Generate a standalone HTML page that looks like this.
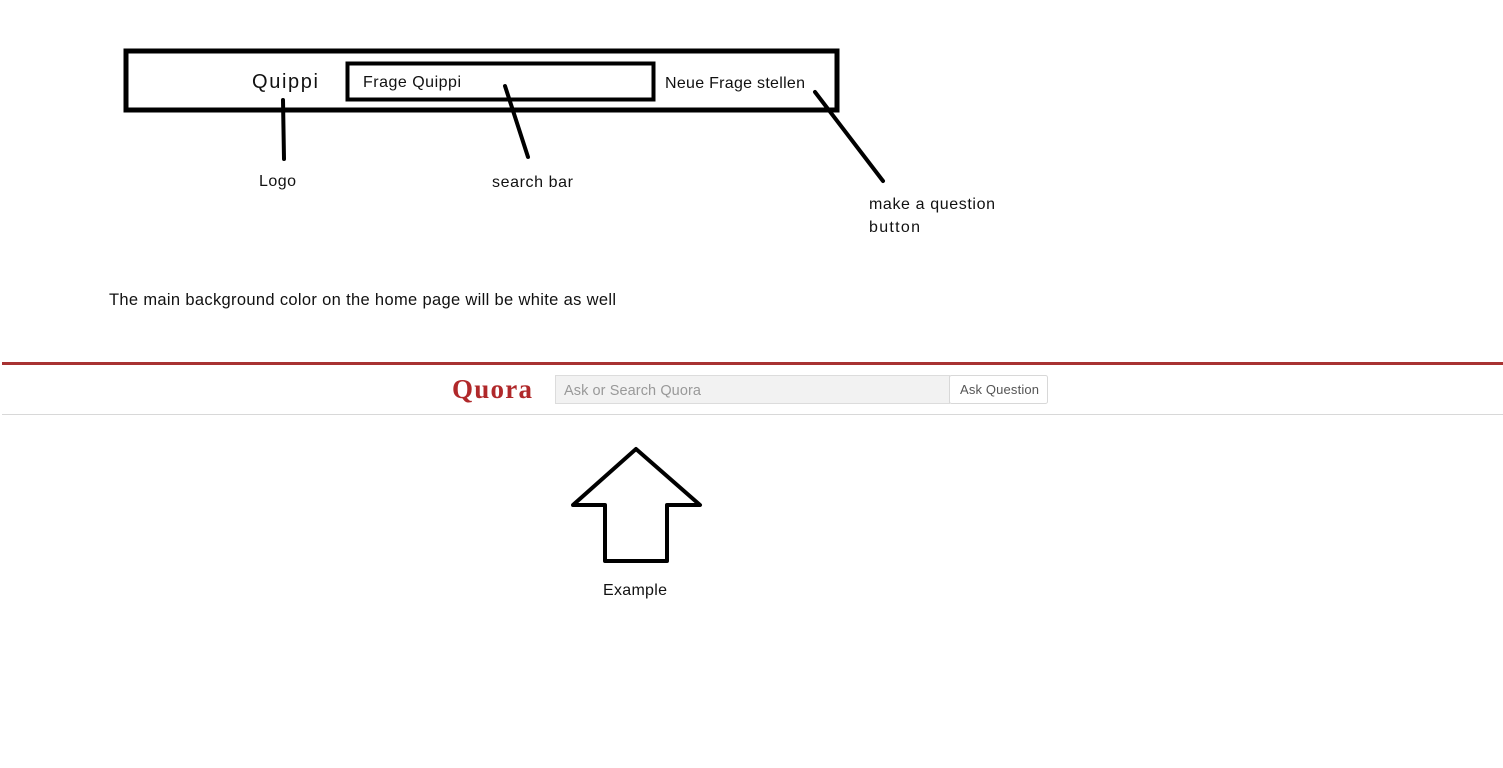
<!DOCTYPE html>
<html><head><meta charset="utf-8"><style>
html,body{margin:0;padding:0;background:#fff;width:1503px;height:768px;overflow:hidden}
svg{display:block}
text{font-family:"Liberation Sans",sans-serif;fill:#111}
</style></head><body>
<svg width="1503" height="768" viewBox="0 0 1503 768" xmlns="http://www.w3.org/2000/svg">
<rect x="126" y="51" width="711" height="59" fill="none" stroke="#000" stroke-width="5"/>
<rect x="347.5" y="63.5" width="306" height="36" fill="none" stroke="#000" stroke-width="4"/>
<text x="252" y="88" font-size="20" textLength="66">Quippi</text>
<text x="363" y="87" font-size="16" textLength="98">Frage Quippi</text>
<text x="665" y="88" font-size="16" textLength="140">Neue Frage stellen</text>
<g stroke="#000" stroke-width="4" stroke-linecap="round">
<line x1="283" y1="100" x2="284" y2="159"/>
<line x1="505" y1="86" x2="528" y2="157"/>
<line x1="815" y1="92" x2="883" y2="181"/>
</g>
<text x="259" y="186" font-size="16" textLength="37">Logo</text>
<text x="492" y="187" font-size="16" textLength="81">search bar</text>
<text x="869" y="209" font-size="16" textLength="126">make a question</text>
<text x="869" y="232" font-size="16" textLength="51">button</text>
<text x="109" y="305" font-size="16.5" textLength="507">The main background color on the home page will be white as well</text>
<rect x="2" y="362" width="1501" height="3" fill="#a83232"/>
<rect x="2" y="414" width="1501" height="1" fill="#d8d8d8"/>
<text x="452" y="398" font-size="27" font-weight="bold" textLength="80" style="font-family:'Liberation Serif',serif;fill:#b0282a">Quora</text>
<rect x="555.5" y="375.5" width="394" height="28" fill="#f2f2f2" stroke="#dcdcdc"/>
<text x="564" y="395" font-size="14.5" textLength="137" style="fill:#999">Ask or Search Quora</text>
<rect x="949.5" y="375.5" width="98" height="28" rx="2" fill="#fff" stroke="#d8d8d8"/>
<text x="960" y="394" font-size="13" textLength="79" style="fill:#555">Ask Question</text>
<polygon points="636,449 700,505 667,505 667,561 605,561 605,505 573,505" fill="none" stroke="#000" stroke-width="4" stroke-linejoin="round"/>
<text x="603" y="595" font-size="16" textLength="64">Example</text>
</svg>
</body></html>
